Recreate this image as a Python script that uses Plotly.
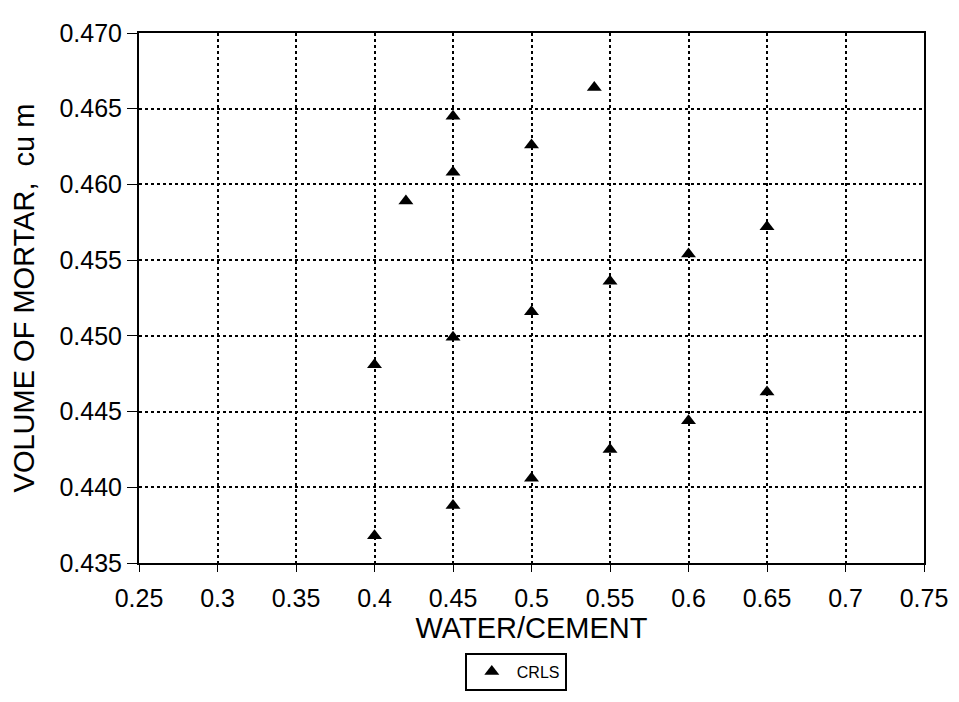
import plotly.graph_objects as go

water_cement = [0.40, 0.40, 0.42, 0.45, 0.45, 0.45, 0.45, 0.50, 0.50, 0.50,
                0.54, 0.55, 0.55, 0.60, 0.60, 0.65, 0.65]
volume_mortar = [0.4368, 0.4481, 0.4589, 0.4388, 0.4499, 0.4608, 0.4645, 0.4406, 0.4516, 0.4626,
                 0.4664, 0.4425, 0.4536, 0.4444, 0.4554, 0.4463, 0.4572]
series_name = "CRLS"

x_ticks = [0.25, 0.3, 0.35, 0.4, 0.45, 0.5, 0.55, 0.6, 0.65, 0.7, 0.75]
x_tick_labels = ["0.25", "0.3", "0.35", "0.4", "0.45", "0.5", "0.55", "0.6", "0.65", "0.7", "0.75"]
y_ticks = [0.435, 0.440, 0.445, 0.450, 0.455, 0.460, 0.465, 0.470]
y_tick_labels = ["0.435", "0.440", "0.445", "0.450", "0.455", "0.460", "0.465", "0.470"]

FONT = "Liberation Sans, Arial, sans-serif"

fig = go.Figure()
fig.add_trace(go.Scatter(
    x=water_cement, y=volume_mortar, mode="markers", name=series_name,
    marker=dict(symbol="triangle-up", size=13, color="black"),
))

fig.update_layout(
    width=951, height=694,
    margin=dict(l=131, r=30, t=11, b=132),
    paper_bgcolor="white", plot_bgcolor="white",
    font=dict(family=FONT, color="black", size=25),
    showlegend=True,
    legend=dict(
        x=0.48, y=-0.169, xanchor="center", yanchor="top",
        bordercolor="black", borderwidth=2,
        font=dict(size=16, family=FONT),
        bgcolor="white", itemwidth=40,
    ),
    xaxis=dict(
        range=[0.25, 0.75], tickvals=x_ticks, ticktext=x_tick_labels,
        showgrid=True, gridcolor="black", griddash="dot", gridwidth=2,
        showline=True, linecolor="black", linewidth=2, mirror=True,
        ticks="outside", ticklen=7, tickcolor="black", tickwidth=1,
        ticklabelstandoff=5,
        tickfont=dict(size=25), zeroline=False, ticklabeloverflow="allow",
        title=dict(text="WATER/CEMENT", font=dict(size=29), standoff=4),
    ),
    yaxis=dict(
        range=[0.435, 0.470], tickvals=y_ticks, ticktext=y_tick_labels,
        showgrid=True, gridcolor="black", griddash="dot", gridwidth=2,
        showline=True, linecolor="black", linewidth=2, mirror=True,
        ticks="outside", ticklen=10, tickcolor="black", tickwidth=1,
        tickfont=dict(size=25), zeroline=False, ticklabeloverflow="allow",
        title=dict(text="VOLUME OF MORTAR,  cu m", font=dict(size=29), standoff=20),
    ),
)

fig.write_html("out.html")
